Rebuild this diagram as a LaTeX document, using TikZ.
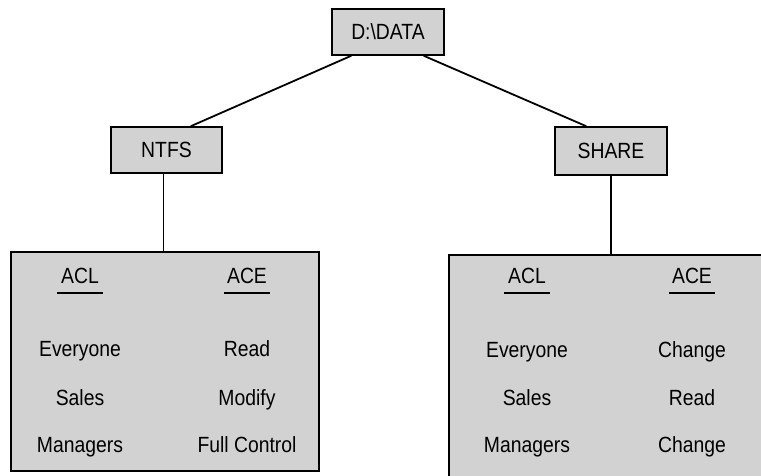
\documentclass[tikz,border=0pt]{standalone}
\usepackage{fontspec}
\newfontfamily\hv{Liberation Sans}[FakeStretch=0.88]
\usepackage{tikz}
\tikzset{
  bx/.style={draw,line width=1.6pt,fill=gray!35,inner sep=0pt},
  ln/.style={line width=1.8pt},
  ul/.style={line width=1.3pt},
  tx/.style={anchor=base,inner sep=0pt,font=\hv\fontsize{22}{26}\selectfont}
}
% underline below a column head
\newcommand{\hdline}[1]{\draw[ul] ([xshift=-23pt,yshift=-10pt]#1.base) -- ([xshift=23pt,yshift=-10pt]#1.base);}

\begin{document}
\begin{tikzpicture}[x=1pt,y=-1pt]
\useasboundingbox (0,0) rectangle (761,476);
\clip (0,0) rectangle (761,476);
\node[bx,minimum width=112pt,minimum height=46pt,font=\hv\fontsize{22}{26}\selectfont] (data) at (388,32) {D:\textbackslash DATA};
\node[bx,minimum width=111pt,minimum height=46pt,font=\hv\fontsize{22}{26}\selectfont] (ntfs) at (166.5,150) {NTFS};
\node[bx,minimum width=112pt,minimum height=48pt,font=\hv\fontsize{22}{26}\selectfont] (share) at (611,151) {SHARE};
\node[bx,minimum width=308pt,minimum height=219pt] (ntfsbox) at (165,361.5) {};
\node[bx,minimum width=330pt,minimum height=240pt] (sharebox) at (614,375) {};
\draw[ln] ([xshift=20pt]data.south west) -- ([xshift=-32pt]ntfs.north east);
\draw[ln] ([xshift=-21pt]data.south east) -- ([xshift=32pt]share.north west);
\draw[ln] ([xshift=-3pt]ntfs.south) -- ([xshift=-3pt]ntfs.south |- ntfsbox.north);
\draw[ln] (share.south) -- (share.south |- sharebox.north);
% NTFS permissions
\node[tx] (acl1) at (80,283) {ACL}; \hdline{acl1}
\node[tx] (ace1) at (247,283) {ACE}; \hdline{ace1}
\node[tx] (g11) at (80,356) {Everyone};
\node[tx] (g12) at (80,405) {Sales};
\node[tx] (g13) at (80,452) {Managers};
\node[tx] (p11) at (247,356) {Read};
\node[tx] (p12) at (247,405) {Modify};
\node[tx] (p13) at (247,452) {Full Control};
% share permissions
\node[tx] (acl2) at (527,283) {ACL}; \hdline{acl2}
\node[tx] (ace2) at (692,283) {ACE}; \hdline{ace2}
\node[tx] (g21) at (527,357) {Everyone};
\node[tx] (g22) at (527,405) {Sales};
\node[tx] (g23) at (527,452) {Managers};
\node[tx] (p21) at (692,357) {Change};
\node[tx] (p22) at (692,405) {Read};
\node[tx] (p23) at (692,452) {Change};
\end{tikzpicture}
\end{document}
